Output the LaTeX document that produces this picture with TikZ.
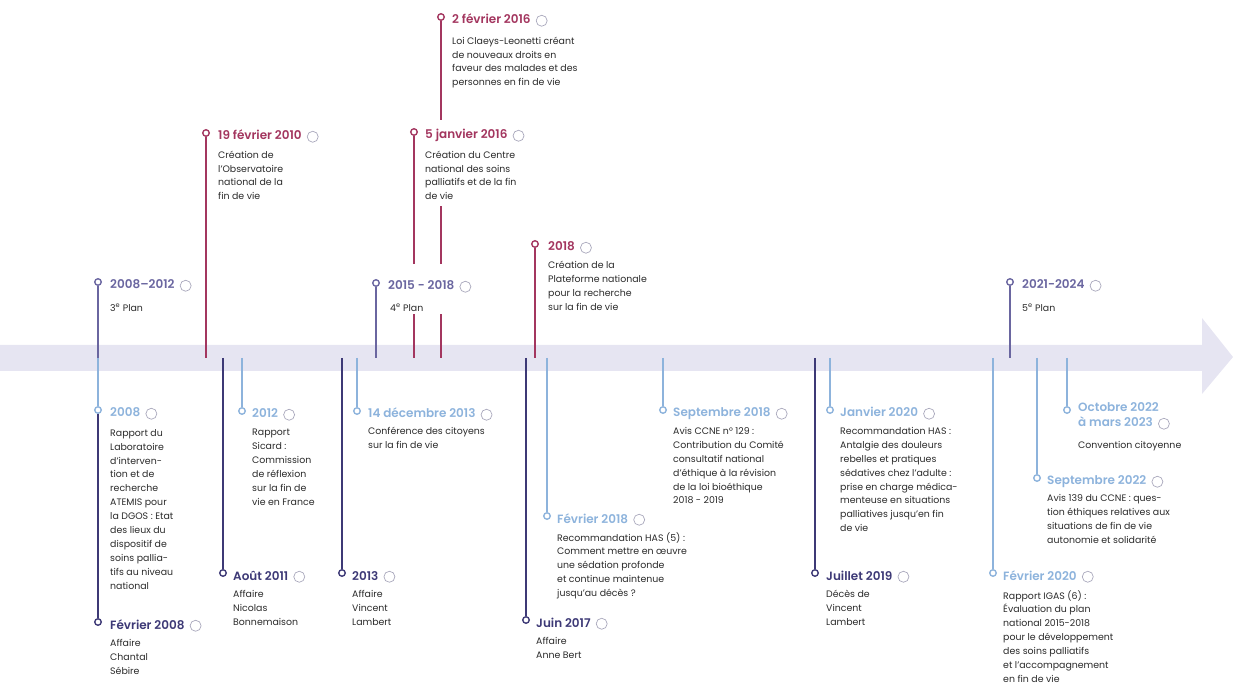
\documentclass[tikz,border=0pt]{standalone}
\usepackage{fontspec}
\setmainfont{Poppins}[BoldFont={Poppins SemiBold}]
\definecolor{bandc}{HTML}{E6E5F2}
\definecolor{planc}{HTML}{6A66A0}
\definecolor{burgc}{HTML}{A3365F}
\definecolor{darkc}{HTML}{3D3976}
\definecolor{lightc}{HTML}{8DB3DC}
\definecolor{bodyc}{HTML}{2A2A2A}
\definecolor{iconc}{HTML}{A9A8BC}
\tikzset{
  darkstem/.style={line width=2.5pt, darkc},
  lightstem/.style={line width=1.5pt, lightc},
  burgstem/.style={line width=1.8pt, burgc},
  planstem/.style={line width=2pt, planc},
  dot/.style={circle, draw, fill=white, inner sep=0pt, minimum size=6.5pt, line width=1.4pt},
  ttl/.style={anchor=base west, inner sep=0pt, text height=9pt, text depth=2.5pt,
    font=\fontsize{12}{14}\selectfont\bfseries},
  body/.style={anchor=north west, yshift=6.9pt, align=left, inner sep=0pt, text=bodyc,
    font=\fontsize{9.4}{13.9}\selectfont, execute at begin node=\strut},
  icon/.style={circle, draw=iconc, line width=0.7pt, minimum size=11pt, inner sep=0pt, anchor=west},
}
\begin{document}
\begin{tikzpicture}[x=1pt,y=-1pt]
\useasboundingbox (0,0) rectangle (1235,684);
% timeline band
\fill[bandc] (0,345) -- (1202,345) -- (1202,318) -- (1233,357) -- (1202,394) -- (1202,371) -- (0,371) -- cycle;

% band anchor coordinates
\foreach \n/\x in {A/98,B/206,C/441,D/414,E/376,F/535,G/1010,H/98,J/242,K/223,L/357,M/342,N/526,O/547,P/663,Q/830,R/815,S/993,T/1037,U/1067}
  {\coordinate (b\n) at (\x,358);}

% markers
\node[dot, draw=planc] (mA) at (98,282) {};
\node[dot, draw=burgc] (mB) at (206,133) {};
\node[dot, draw=burgc] (mC) at (441,17) {};
\node[dot, draw=burgc] (mD) at (414,132) {};
\node[dot, draw=planc] (mE) at (376,283) {};
\node[dot, draw=burgc] (mF) at (535,244) {};
\node[dot, draw=planc] (mG) at (1010,282) {};
\node[dot, draw=lightc] (mH) at (98,410) {};
\node[dot, draw=darkc] (mI) at (98,622) {};
\node[dot, draw=lightc] (mJ) at (242,411) {};
\node[dot, draw=darkc] (mK) at (223,573) {};
\node[dot, draw=lightc] (mL) at (357,411) {};
\node[dot, draw=darkc] (mM) at (342,573) {};
\node[dot, draw=darkc] (mN) at (526,620) {};
\node[dot, draw=lightc] (mO) at (547,516) {};
\node[dot, draw=lightc] (mP) at (663,410) {};
\node[dot, draw=lightc] (mQ) at (830,410) {};
\node[dot, draw=darkc] (mR) at (815,573) {};
\node[dot, draw=lightc] (mS) at (993,573) {};
\node[dot, draw=lightc] (mT) at (1037,478) {};
\node[dot, draw=lightc] (mU) at (1067,410) {};

% stems
\draw[planstem] (mA) -- (bA);
\draw[burgstem] (mB) -- (bB);
\draw[burgstem] (mC) -- (bC);
\draw[burgstem] (mD) -- (bD);
\draw[planstem] (mE) -- (bE);
\draw[burgstem] (mF) -- (bF);
\draw[planstem] (mG) -- (bG);
\draw[lightstem] (bH) -- (mH);
\draw[darkstem] (mH) -- (mI);
\draw[lightstem] (bJ) -- (mJ);
\draw[darkstem] (bK) -- (mK);
\draw[lightstem] (bL) -- (mL);
\draw[darkstem] (bM) -- (mM);
\draw[darkstem] (bN) -- (mN);
\draw[lightstem] (bO) -- (mO);
\draw[lightstem] (bP) -- (mP);
\draw[lightstem] (bQ) -- (mQ);
\draw[darkstem] (bR) -- (mR);
\draw[lightstem] (bS) -- (mS);
\draw[lightstem] (bT) -- (mT);
\draw[lightstem] (bU) -- (mU);

% white patches behind texts crossing stems
\fill[white] (420,120) rectangle (535,206);
\fill[white] (384,264) rectangle (492,314);

% keep marker centres white
\foreach \m in {mA,mB,mC,mD,mE,mF,mG,mH,mI,mJ,mK,mL,mM,mN,mO,mP,mQ,mR,mS,mT,mU}
  {\fill[white] (\m) circle (2pt);}

% titles, icons and texts
\node[ttl, text=planc] (tA) at (110,289) {2008--2012};
\node[icon] (iA) at ([xshift=5pt]tA.east) {};
\node[body] (dA) at (110,308) {3\textsuperscript{e} Plan};

\node[ttl, text=burgc] (tB) at (218,140) {19 février 2010};
\node[icon] (iB) at ([xshift=5pt]tB.east) {};
\node[body] (dB) at (218,157.5) {Création de\\l'Observatoire\\national de la\\fin de vie};

\node[ttl, text=burgc] (tC) at (452,24) {2 février 2016};
\node[icon] (iC) at ([xshift=5pt]tC.east) {};
\node[body] (dC) at (452,43.5) {Loi Claeys-Leonetti créant\\de nouveaux droits en\\faveur des malades et des\\personnes en fin de vie};

\node[ttl, text=burgc] (tD) at (425,139) {5 janvier 2016};
\node[icon] (iD) at ([xshift=5pt]tD.east) {};
\node[body] (dD) at (425,157.5) {Création du Centre\\national des soins\\palliatifs et de la fin\\de vie};

\node[ttl, text=planc] (tE) at (388,290) {2015 - 2018};
\node[icon] (iE) at ([xshift=5pt]tE.east) {};
\node[body] (dE) at (390,308) {4\textsuperscript{e} Plan};

\node[ttl, text=burgc] (tF) at (548,251) {2018};
\node[icon] (iF) at ([xshift=5pt]tF.east) {};
\node[body] (dF) at (548,268) {Création de la\\Plateforme nationale\\pour la recherche\\sur la fin de vie};

\node[ttl, text=planc] (tG) at (1022,289) {2021-2024};
\node[icon] (iG) at ([xshift=5pt]tG.east) {};
\node[body] (dG) at (1022,308) {5\textsuperscript{e} Plan};

\node[ttl, text=lightc] (tH) at (110,417) {2008};
\node[icon] (iH) at ([xshift=5pt]tH.east) {};
\node[body] (dH) at (110,436) {Rapport du\\Laboratoire\\d'interven-\\tion et de\\recherche\\ATEMIS pour\\la DGOS : Etat\\des lieux du\\dispositif de\\soins pallia-\\tifs au niveau\\national};

\node[ttl, text=darkc] (tI) at (110,629) {Février 2008};
\node[icon] (iI) at ([xshift=5pt]tI.east) {};
\node[body] (dI) at (110,646) {Affaire\\Chantal\\Sébire};

\node[ttl, text=lightc] (tJ) at (252,418) {2012};
\node[icon] (iJ) at ([xshift=5pt]tJ.east) {};
\node[body] (dJ) at (252,436) {Rapport\\Sicard :\\Commission\\de réflexion\\sur la fin de\\vie en France};

\node[ttl, text=darkc] (tK) at (233,580) {Août 2011};
\node[icon] (iK) at ([xshift=5pt]tK.east) {};
\node[body] (dK) at (233,597) {Affaire\\Nicolas\\Bonnemaison};

\node[ttl, text=lightc] (tL) at (368,418) {14 décembre 2013};
\node[icon] (iL) at ([xshift=5pt]tL.east) {};
\node[body] (dL) at (368,434) {Conférence des citoyens\\sur la fin de vie};

\node[ttl, text=darkc] (tM) at (352,580) {2013};
\node[icon] (iM) at ([xshift=5pt]tM.east) {};
\node[body] (dM) at (352,597) {Affaire\\Vincent\\Lambert};

\node[ttl, text=darkc] (tN) at (536,627) {Juin 2017};
\node[icon] (iN) at ([xshift=5pt]tN.east) {};
\node[body] (dN) at (536,644) {Affaire\\Anne Bert};

\node[ttl, text=lightc] (tO) at (557,523) {Février 2018};
\node[icon] (iO) at ([xshift=5pt]tO.east) {};
\node[body] (dO) at (557,539) {Recommandation HAS (5) :\\Comment mettre en œuvre\\une sédation profonde\\et continue maintenue\\jusqu'au décès ?};

\node[ttl, text=lightc] (tP) at (673,417) {Septembre 2018};
\node[icon] (iP) at ([xshift=5pt]tP.east) {};
\node[body] (dP) at (673,434) {Avis CCNE n° 129 :\\Contribution du Comité\\consultatif national\\d'éthique à la révision\\de la loi bioéthique\\2018 - 2019};

\node[ttl, text=lightc] (tQ) at (840,417) {Janvier 2020};
\node[icon] (iQ) at ([xshift=5pt]tQ.east) {};
\node[body] (dQ) at (840,434) {Recommandation HAS :\\Antalgie des douleurs\\rebelles et pratiques\\sédatives chez l'adulte :\\prise en charge médica-\\menteuse en situations\\palliatives jusqu'en fin\\de vie};

\node[ttl, text=darkc] (tR) at (826,580) {Juillet 2019};
\node[icon] (iR) at ([xshift=5pt]tR.east) {};
\node[body] (dR) at (826,597) {Décès de\\Vincent\\Lambert};

\node[ttl, text=lightc] (tS) at (1003,580) {Février 2020};
\node[icon] (iS) at ([xshift=5pt]tS.east) {};
\node[body] (dS) at (1003,597) {Rapport IGAS (6) :\\Évaluation du plan\\national 2015-2018\\pour le développement\\des soins palliatifs\\et l'accompagnement\\en fin de vie};

\node[ttl, text=lightc] (tT) at (1047,485) {Septembre 2022};
\node[icon] (iT) at ([xshift=5pt]tT.east) {};
\node[body] (dT) at (1047,501) {Avis 139 du CCNE : ques-\\tion éthiques relatives aux\\situations de fin de vie\\autonomie et solidarité};

\node[ttl, text=lightc] (tU1) at (1078,412) {Octobre 2022};
\node[ttl, text=lightc] (tU2) at (1078,427) {à mars 2023};
\node[icon] (iU) at ([xshift=5pt]tU2.east) {};
\node[body] (dU) at (1078,445) {Convention citoyenne};
\end{tikzpicture}
\end{document}
